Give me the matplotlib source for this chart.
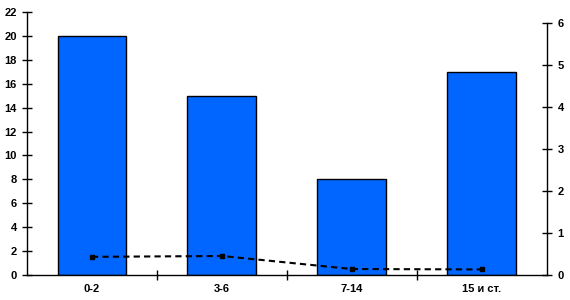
import matplotlib
matplotlib.use("Agg")
import matplotlib.pyplot as plt
import numpy as np

plt.rcParams['font.family'] = ['Liberation Sans', 'DejaVu Sans']
plt.rcParams['font.size'] = 8
plt.rcParams['font.weight'] = 'bold'

# данные
categories = ['0-2', '3-6', '7-14', '15 и ст.']
bar_values = [20, 15, 8, 17]
line_values = [0.44, 0.46, 0.15, 0.14]

fig = plt.figure(figsize=(5.7, 3.0), dpi=100)
ax = fig.add_axes([0.0474, 0.0823, 0.9116, 0.8787])

x = np.arange(len(categories))
ax.bar(x, bar_values, width=0.53, color='#0066ff', edgecolor='black', linewidth=1, zorder=2)

ax.set_xlim(-0.5, len(categories) - 0.5)
ax.set_ylim(0, 22)
ax.set_yticks(range(0, 23, 2))
ax.set_xticks(x)
ax.set_xticklabels(categories)
ax.set_xticks(np.arange(0.5, len(categories) - 0.5, 1), minor=True)
ax.tick_params(axis='x', which='major', length=0, pad=6)
ax.tick_params(axis='x', which='minor', direction='inout', length=7.5, width=1)
ax.tick_params(axis='y', direction='inout', length=7.5, width=1, pad=3.5)
ax.spines['top'].set_visible(False)
ax.spines['right'].set_visible(False)

# вторая ось
ax2 = ax.twinx()
ax2.set_ylim(0, 6 * 263.6 / 252)
ax2.set_yticks(range(0, 7))
ax2.spines['right'].set_bounds(0, 6)
ax2.spines['top'].set_visible(False)
ax2.spines['left'].set_visible(False)
ax2.spines['bottom'].set_visible(False)
ax2.tick_params(axis='y', direction='inout', length=7.5, width=1, pad=4)
ax2.plot(x, line_values, color='black', linestyle=(0, (3, 2)), linewidth=1.5,
         marker='s', markersize=3.5, zorder=3)

for a in (ax, ax2):
    for s in a.spines.values():
        s.set_linewidth(1)

plt.savefig('out.png', dpi=100)
plt.close()
